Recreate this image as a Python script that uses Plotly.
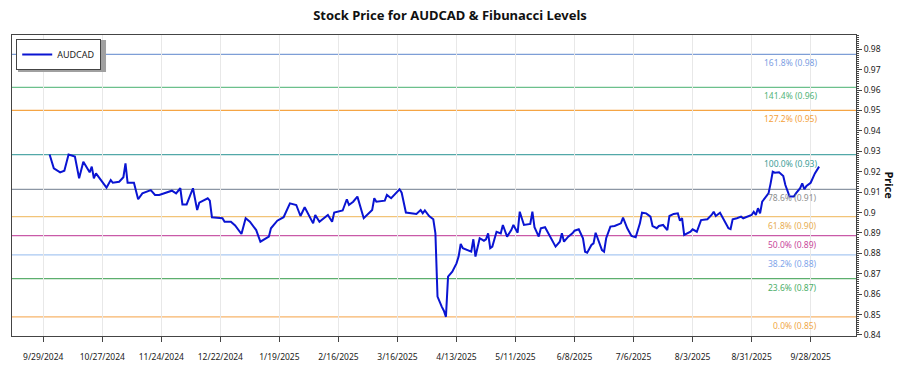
import plotly.graph_objects as go

dates = [
    "2024-10-02", "2024-10-04", "2024-10-07", "2024-10-09", "2024-10-11", "2024-10-14", "2024-10-16", "2024-10-18",
    "2024-10-21", "2024-10-22", "2024-10-23", "2024-10-24", "2024-10-29", "2024-10-31", "2024-11-01", "2024-11-04",
    "2024-11-06", "2024-11-07", "2024-11-08", "2024-11-11", "2024-11-13", "2024-11-15", "2024-11-19", "2024-11-21",
    "2024-11-23", "2024-11-27", "2024-11-29", "2024-12-01", "2024-12-03", "2024-12-04", "2024-12-06", "2024-12-09",
    "2024-12-11", "2024-12-12", "2024-12-16", "2024-12-17", "2024-12-18", "2024-12-23", "2024-12-24", "2024-12-27",
    "2024-12-29", "2025-01-01", "2025-01-03", "2025-01-05", "2025-01-08", "2025-01-10", "2025-01-14", "2025-01-15",
    "2025-01-18", "2025-01-21", "2025-01-24", "2025-01-27", "2025-01-29", "2025-01-31", "2025-02-04", "2025-02-05",
    "2025-02-07", "2025-02-11", "2025-02-13", "2025-02-14", "2025-02-18", "2025-02-20", "2025-02-21", "2025-02-23",
    "2025-02-25", "2025-02-28", "2025-03-04", "2025-03-05", "2025-03-06", "2025-03-10", "2025-03-11", "2025-03-13",
    "2025-03-17", "2025-03-18", "2025-03-20", "2025-03-25", "2025-03-27", "2025-03-28", "2025-03-29", "2025-03-31",
    "2025-04-02", "2025-04-03", "2025-04-04", "2025-04-06", "2025-04-07", "2025-04-08", "2025-04-09", "2025-04-11",
    "2025-04-13", "2025-04-14", "2025-04-15", "2025-04-16", "2025-04-18", "2025-04-20", "2025-04-21", "2025-04-22",
    "2025-04-24", "2025-04-26", "2025-04-27", "2025-04-28", "2025-04-29", "2025-04-30", "2025-05-02", "2025-05-04",
    "2025-05-05", "2025-05-07", "2025-05-09", "2025-05-10", "2025-05-12", "2025-05-13", "2025-05-15", "2025-05-18",
    "2025-05-19", "2025-05-20", "2025-05-22", "2025-05-23", "2025-05-25", "2025-05-27", "2025-05-30", "2025-06-01",
    "2025-06-02", "2025-06-03", "2025-06-05", "2025-06-07", "2025-06-08", "2025-06-10", "2025-06-12", "2025-06-13",
    "2025-06-14", "2025-06-16", "2025-06-17", "2025-06-18", "2025-06-19", "2025-06-21", "2025-06-22", "2025-06-23",
    "2025-06-25", "2025-06-27", "2025-06-30", "2025-07-01", "2025-07-03", "2025-07-05", "2025-07-07", "2025-07-09",
    "2025-07-10", "2025-07-12", "2025-07-14", "2025-07-15", "2025-07-17", "2025-07-18", "2025-07-20", "2025-07-22",
    "2025-07-23", "2025-07-25", "2025-07-27", "2025-07-28", "2025-07-29", "2025-07-30", "2025-08-02", "2025-08-03",
    "2025-08-05", "2025-08-07", "2025-08-10", "2025-08-12", "2025-08-13", "2025-08-14", "2025-08-16", "2025-08-18",
    "2025-08-20", "2025-08-21", "2025-08-22", "2025-08-24", "2025-08-26", "2025-08-27", "2025-08-29", "2025-08-31",
    "2025-09-01", "2025-09-02", "2025-09-03", "2025-09-04", "2025-09-05", "2025-09-06", "2025-09-08", "2025-09-09",
    "2025-09-10", "2025-09-11", "2025-09-13", "2025-09-15", "2025-09-16", "2025-09-18", "2025-09-20", "2025-09-21",
    "2025-09-23", "2025-09-24", "2025-09-25", "2025-09-26", "2025-09-28", "2025-09-30", "2025-10-02",
]

prices = [
    0.9284, 0.9217, 0.9197, 0.9205, 0.9284, 0.9274, 0.9168, 0.9249,
    0.9197, 0.9225, 0.9168, 0.9192, 0.9122, 0.9159, 0.9146, 0.9151,
    0.9173, 0.9241, 0.9146, 0.9146, 0.9065, 0.9094, 0.9110, 0.9086,
    0.9086, 0.9102, 0.9107, 0.9094, 0.9119, 0.9040, 0.9040, 0.9119,
    0.9012, 0.9048, 0.9070, 0.9058, 0.8977, 0.8972, 0.8955, 0.8955,
    0.8937, 0.8895, 0.8972, 0.8955, 0.8914, 0.8857, 0.8882, 0.8923,
    0.8960, 0.8977, 0.9045, 0.9037, 0.8983, 0.9026, 0.8947, 0.8988,
    0.8955, 0.8988, 0.8955, 0.9000, 0.9010, 0.9065, 0.9037, 0.9053,
    0.9078, 0.8972, 0.9012, 0.9070, 0.9053, 0.9058, 0.9086, 0.9070,
    0.9114, 0.9097, 0.9000, 0.8993, 0.9012, 0.8996, 0.9010, 0.8983,
    0.8967, 0.8898, 0.8588, 0.8539, 0.8519, 0.8489, 0.8686, 0.8710,
    0.8751, 0.8784, 0.8846, 0.8825, 0.8816, 0.8808, 0.8869, 0.8784,
    0.8874, 0.8862, 0.8869, 0.8898, 0.8825, 0.8833, 0.8906, 0.8898,
    0.8939, 0.8882, 0.8914, 0.8939, 0.8901, 0.9004, 0.8939, 0.8944,
    0.9004, 0.8928, 0.8882, 0.8923, 0.8928, 0.8890, 0.8833, 0.8857,
    0.8898, 0.8857, 0.8882, 0.8898, 0.8911, 0.8918, 0.8874, 0.8808,
    0.8803, 0.8841, 0.8849, 0.8901, 0.8869, 0.8816, 0.8808, 0.8874,
    0.8931, 0.8934, 0.8947, 0.8975, 0.8923, 0.8885, 0.8879, 0.8947,
    0.8999, 0.8996, 0.8980, 0.8934, 0.8923, 0.8934, 0.8939, 0.8914,
    0.8983, 0.8993, 0.8996, 0.8960, 0.8972, 0.8890, 0.8906, 0.8918,
    0.8906, 0.8963, 0.8967, 0.8988, 0.9004, 0.8983, 0.8999, 0.8960,
    0.8923, 0.8919, 0.8967, 0.8972, 0.8980, 0.8972, 0.8980, 0.8988,
    0.9004, 0.8988, 0.9021, 0.8996, 0.9053, 0.9065, 0.9094, 0.9143,
    0.9200, 0.9195, 0.9197, 0.9179, 0.9135, 0.9078, 0.9078, 0.9094,
    0.9119, 0.9143, 0.9114, 0.9130, 0.9146, 0.9192, 0.9225,
]

fib_ratios = [0.0, 0.236, 0.382, 0.5, 0.618, 0.786, 1.0, 1.272, 1.414, 1.618]
fib_line_colors = ["#F7B46A", "#5DAF6E", "#A9C8F2", "#C95AA8", "#F2C478",
                   "#8C96A4", "#52A8A8", "#F5A544", "#6CC08C", "#7E9ED6"]
fib_text_colors = ["#F0A848", "#4CAE68", "#7FA6EA", "#C8469A", "#E8AE52",
                   "#8E8E8E", "#3E9E98", "#F4A13A", "#52B47A", "#7C9EE2"]

tick_labels_start = "2024-09-29"
x_range = ["2024-09-14 04:00", "2025-10-19 12:00"]
y_range = [0.8395, 0.987]

FONT = "Noto Sans"

low = min(prices)
high = max(prices)

fig = go.Figure()
fig.add_trace(go.Scatter(
    x=dates, y=prices, mode="lines", name="AUDCAD",
    line=dict(color="#0A14D2", width=2),
))

for r, lc, tc in zip(fib_ratios, fib_line_colors, fib_text_colors):
    lvl = low + r * (high - low)
    fig.add_shape(type="line", xref="paper", x0=0, x1=1, yref="y", y0=lvl, y1=lvl,
                  line=dict(color=lc, width=1.3), layer="below")
    fig.add_annotation(x=dates[-1], y=lvl, xref="x", yref="y",
                       text=f"{r*100:.1f}% ({lvl:.2f})", showarrow=False,
                       xanchor="right", yanchor="top", yshift=-1,
                       font=dict(family=FONT, size=8.5, color=tc))

fig.add_annotation(xref="paper", yref="paper", x=1, xshift=33, y=0.5,
                   text="<b>Price</b>", showarrow=False, textangle=90,
                   font=dict(family=FONT, size=11, color="#111"),
                   xanchor="center", yanchor="middle")

# legend drop shadow
fig.add_shape(type="rect", xref="paper", yref="paper",
              x0=0.0071, x1=0.1114, y0=0.877, y1=0.983,
              fillcolor="#A0A0A0", line=dict(width=0), layer="above")

fig.update_layout(
    width=900, height=375,
    margin=dict(l=12, r=44, t=35, b=39),
    paper_bgcolor="white", plot_bgcolor="white",
    title=dict(text="<b>Stock Price for AUDCAD & Fibunacci Levels</b>",
               x=0.5, xref="container", xanchor="center", y=0.96, yanchor="middle",
               font=dict(family=FONT, size=13, color="#111")),
    showlegend=True,
    legend=dict(x=0.005, y=0.987, xanchor="left", yanchor="top",
                bgcolor="white", bordercolor="#444", borderwidth=1,
                font=dict(family=FONT, size=9, color="#222")),
    font=dict(family=FONT, size=9, color="#222"),
)

fig.update_xaxes(
    type="date", range=x_range,
    tick0=tick_labels_start, dtick=28 * 24 * 3600 * 1000,
    tickformat="%-m/%-d/%Y", ticks="outside", ticklen=5, tickcolor="#444",
    ticklabelstandoff=8,
    showgrid=True, gridcolor="#E8E8E8", gridwidth=1,
    showline=True, linecolor="#444", linewidth=1, mirror=True,
    tickfont=dict(family=FONT, size=8.5, color="#222"),
    zeroline=False,
)
fig.update_yaxes(
    side="right", range=y_range, dtick=0.01, tick0=0.84,
    ticks="outside", ticklen=5, tickcolor="#444",
    minor=dict(dtick=0.001, ticks="outside", ticklen=2, tickcolor="#444"),
    showgrid=False, zeroline=False,
    showline=True, linecolor="#444", linewidth=1, mirror=True,
    tickfont=dict(family=FONT, size=8.5, color="#222"),
)

fig.write_html("out.html", config={"displayModeBar": False},
               post_script="document.body.style.margin='0';")
